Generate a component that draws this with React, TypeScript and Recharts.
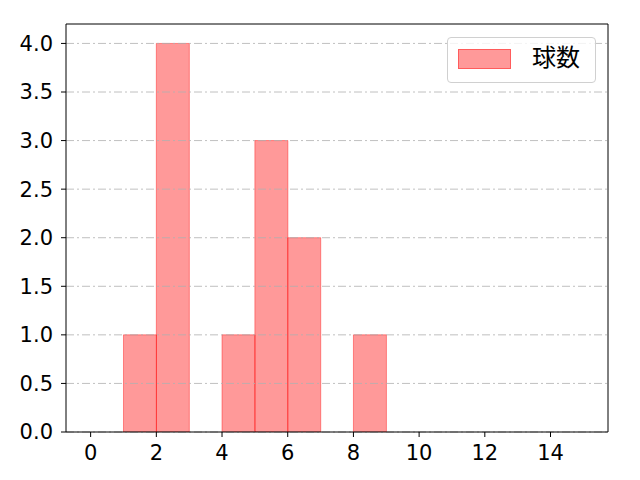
import React from 'react';
import { BarChart, Bar, XAxis, YAxis, ReferenceLine } from 'recharts';

// histogram bins (left edge of each 1-wide bin) and counts
const binStarts = [1, 2, 4, 5, 6, 8];
const counts = [1, 4, 1, 3, 2, 1];
const xTicks = [0, 2, 4, 6, 8, 10, 12, 14];
const yTicks = [0, 0.5, 1, 1.5, 2, 2.5, 3, 3.5, 4];
const seriesName = '球数';

const data = binStarts.map((s, i) => ({ center: s + 0.5, count: counts[i] }));

const TICK_FONT = '"DejaVu Sans", sans-serif';
const LEGEND_FONT = '"Noto Sans CJK JP", sans-serif';

const LegendBox = () => (
    <div
        style={{
            position: 'absolute',
            left: 447,
            top: 37,
            width: 149,
            height: 46,
            border: '1px solid #d0d0d0',
            borderRadius: 4,
            background: 'rgba(255,255,255,0.8)',
            boxSizing: 'border-box',
            fontFamily: LEGEND_FONT,
        }}
    >
        <div
            style={{
                position: 'absolute',
                left: 10,
                top: 11,
                width: 53,
                height: 20,
                background: 'rgba(255,0,0,0.4)',
                border: '1px solid rgba(255,0,0,0.4)',
                boxSizing: 'border-box',
            }}
        />
        <span style={{ position: 'absolute', left: 84, top: 6, fontSize: 24, color: '#000', lineHeight: '24px', whiteSpace: 'nowrap' }}>
            {seriesName}
        </span>
    </div>
);

export default function App() {
    return (
        <div style={{ position: 'absolute', left: 0, top: 0, width: 640, height: 480, background: '#fff' }}>
            <BarChart
                width={640}
                height={480}
                data={data}
                margin={{ top: 24, right: 32, left: 0, bottom: 0 }}
                barCategoryGap={0}
                barGap={0}
            >
                <XAxis
                    dataKey="center"
                    type="number"
                    domain={[-0.75, 15.75]}
                    ticks={xTicks}
                    allowDataOverflow
                    height={48}
                    stroke="#000"
                    tickSize={5}
                    tickMargin={8}
                    tick={{ fill: '#000', fontSize: 21, fontFamily: TICK_FONT }}
                    tickLine={{ stroke: '#000' }}
                />
                <YAxis
                    type="number"
                    domain={[0, 4.2]}
                    ticks={yTicks}
                    allowDataOverflow
                    width={66}
                    stroke="#000"
                    tickSize={5}
                    tickMargin={8}
                    tickFormatter={(v: number) => v.toFixed(1)}
                    tick={{ fill: '#000', fontSize: 21, fontFamily: TICK_FONT }}
                    tickLine={{ stroke: '#000' }}
                />
                <Bar
                    dataKey="count"
                    name={seriesName}
                    fill="red"
                    fillOpacity={0.4}
                    stroke="red"
                    strokeOpacity={0.4}
                    isAnimationActive={false}
                />
                {yTicks.map((t) => (
                    <ReferenceLine
                        key={t}
                        y={t}
                        stroke="#b0b0b0"
                        strokeWidth={0.8}
                        strokeDasharray="8 3 2 3"
                    />
                ))}
                {/* top and right spines */}
                <ReferenceLine y={4.2} stroke="#000" />
                <ReferenceLine x={15.75} stroke="#000" />
            </BarChart>
            <LegendBox />
        </div>
    );
}
